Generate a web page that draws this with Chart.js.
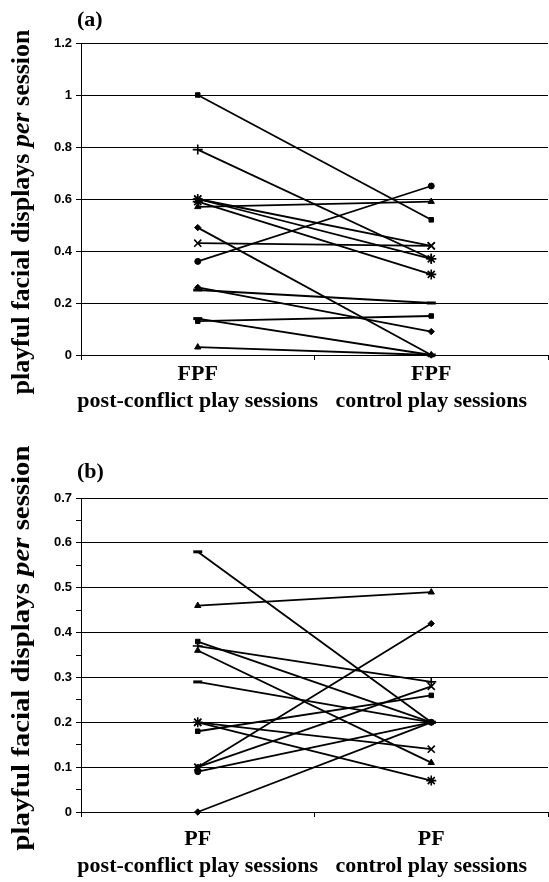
<!DOCTYPE html>
<html>
<head>
<meta charset="utf-8">
<script src="https://cdn.jsdelivr.net/npm/chart.js@4/dist/chart.umd.min.js"></script>
<style>
  html, body { margin: 0; padding: 0; background: #fff; }
  body { width: 549px; height: 882px; position: relative; overflow: hidden; }
  canvas { position: absolute; left: 0; }
  #panelA { top: 0; }
  #panelB { top: 440px; }
</style>
</head>
<body>
<canvas id="panelA" width="549" height="440"></canvas>
<canvas id="panelB" width="549" height="442"></canvas>
<script>
// (a) full play face: each subject's rate in post-conflict vs control sessions
const categoriesA = [['FPF', 'post-conflict play sessions'], ['FPF', 'control play sessions']];
const postConflictA = [1.00, 0.79, 0.60, 0.60, 0.59, 0.57, 0.49, 0.43, 0.36, 0.26, 0.25, 0.14, 0.13, 0.03];
const controlA      = [0.52, 0.37, 0.42, 0.37, 0.31, 0.59, 0.00, 0.42, 0.65, 0.09, 0.20, 0.00, 0.15, 0.00];
const yTicksA = [0, 0.2, 0.4, 0.6, 0.8, 1, 1.2];

// (b) play face
const categoriesB = [['PF', 'post-conflict play sessions'], ['PF', 'control play sessions']];
const postConflictB = [0.58, 0.46, 0.38, 0.37, 0.36, 0.29, 0.20, 0.20, 0.18, 0.10, 0.10, 0.09, 0.00];
const controlB      = [0.20, 0.49, 0.20, 0.29, 0.11, 0.20, 0.14, 0.07, 0.26, 0.42, 0.28, 0.20, 0.20];
const yTicksB = [0, 0.1, 0.2, 0.3, 0.4, 0.5, 0.6, 0.7];

// marker shape per subject line
const markersA = ['rect', 'cross', 'crossRot', 'star', 'star', 'triangle', 'rectRot', 'crossRot', 'circle', 'rectRot', 'line', 'line', 'rect', 'triangle'];
const markersB = ['line', 'triangle', 'rect', 'cross', 'triangle', 'line', 'crossRot', 'star', 'rect', 'rectRot', 'crossRot', 'circle', 'rectRot'];

function markerStyle(shape) {
  switch (shape) {
    case 'cross': case 'crossRot': case 'star':
      return { radius: 5, border: 1.6 };
    case 'line':
      return { radius: 4.5, border: 3 };
    case 'circle':
      return { radius: 3, border: 1 };
    case 'triangle':
      return { radius: 3.6, border: 1 };
    default:
      return { radius: 3.2, border: 1 };
  }
}

function buildDatasets(post, control, markers) {
  return post.map((v, i) => {
    const m = markerStyle(markers[i]);
    return {
      data: [v, control[i]],
      borderColor: '#000',
      borderWidth: 1.8,
      backgroundColor: '#000',
      pointStyle: markers[i],
      pointRadius: m.radius,
      pointBorderWidth: m.border,
      pointBackgroundColor: '#000',
      pointBorderColor: '#000',
      tension: 0,
      clip: false
    };
  });
}

// rotated axis title with an italic "per", plus the panel letter
const panelText = {
  id: 'panelText',
  afterDraw(chart, args, opts) {
    const ctx = chart.ctx;
    ctx.save();
    ctx.fillStyle = '#000';
    ctx.textBaseline = 'alphabetic';
    ctx.font = 'bold 22px "Liberation Serif"';
    ctx.textAlign = 'left';
    ctx.fillText(opts.letter, opts.letterX, opts.letterY);

    const size = 25;
    const parts = [
      { t: 'playful facial displays ', f: `bold ${size}px "Liberation Serif"` },
      { t: 'per', f: `italic bold ${size}px "Liberation Serif"` },
      { t: ' session', f: `bold ${size}px "Liberation Serif"` }
    ];
    let total = 0;
    parts.forEach(p => { ctx.font = p.f; p.w = ctx.measureText(p.t).width; total += p.w; });
    ctx.translate(opts.titleX, opts.titleY);
    ctx.rotate(-Math.PI / 2);
    ctx.scale(opts.titleLength / total, 1);
    let x = -total / 2;
    parts.forEach(p => { ctx.font = p.f; ctx.fillText(p.t, x, 0); x += p.w; });
    ctx.restore();
  }
};

function makeChart(id, labels, datasets, yCfg, layoutTop, xHeight, labelPad, textOpts) {
  return new Chart(document.getElementById(id), {
    type: 'line',
    data: { labels, datasets },
    plugins: [panelText],
    options: {
      responsive: false,
      animation: false,
      devicePixelRatio: 1,
      layout: { autoPadding: false, padding: { top: layoutTop, right: 1, left: 0, bottom: 0 } },
      plugins: { legend: { display: false }, tooltip: { enabled: false }, panelText: textOpts },
      scales: {
        x: {
          type: 'category',
          offset: true,
          grid: { offset: true, drawOnChartArea: false, color: '#000', tickLength: 5, lineWidth: 1 },
          border: { color: '#000', width: 1 },
          ticks: {
            color: '#000',
            font: { family: '"Liberation Serif"', weight: 'bold', size: 22, lineHeight: 1.23 },
            padding: labelPad,
            maxRotation: 0,
            autoSkip: false
          },
          afterFit(s) {
            s.height = xHeight;
            s.paddingLeft = 0;
            s.paddingRight = 0;
          }
        },
        y: yCfg
      }
    }
  });
}

function yAxis(ticks, step, minor) {
  const max = ticks[ticks.length - 1];
  return {
    min: 0,
    max: max,
    ticks: {
      stepSize: minor ? step / 2 : step,
      color: '#000',
      font: { family: '"Liberation Sans"', weight: 'bold', size: 13 },
      padding: 4,
      callback(value, index) {
        if (minor && index % 2 === 1) return '';
        const match = ticks.find(t => Math.abs(t - value) < 1e-6);
        return match === undefined ? '' : String(match);
      }
    },
    grid: {
      color: ctx => (minor && ctx.index % 2 === 1) ? 'rgba(0,0,0,0)' : '#000',
      tickColor: '#000',
      tickLength: 5,
      lineWidth: 1
    },
    border: { color: '#000', width: 1 },
    afterFit(s) { s.width = 81; }
  };
}

makeChart('panelA', categoriesA, buildDatasets(postConflictA, controlA, markersA),
  yAxis(yTicksA, 0.2, false), 43, 85, 1,
  { letter: '(a)', letterX: 77, letterY: 26, titleX: 29, titleY: 212, titleLength: 365 });

makeChart('panelB', categoriesB, buildDatasets(postConflictB, controlB, markersB),
  yAxis(yTicksB, 0.1, true), 58, 70, 9,
  { letter: '(b)', letterX: 77, letterY: 38, titleX: 29, titleY: 208, titleLength: 405 });
</script>
</body>
</html>
